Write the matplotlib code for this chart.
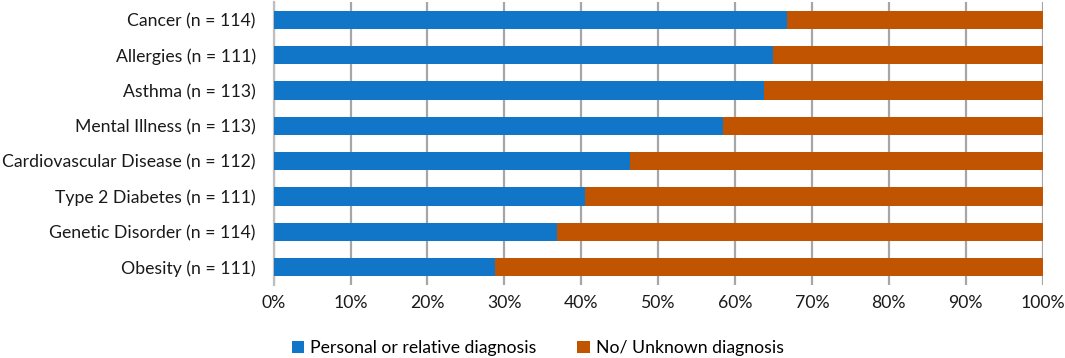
import numpy as np
import matplotlib
matplotlib.use("Agg")
import matplotlib.pyplot as plt

plt.rcParams["font.family"] = ["Lato", "DejaVu Sans"]

categories = ["Cancer (n = 114)", "Allergies (n = 111)", "Asthma (n = 113)",
              "Mental Illness (n = 113)", "Cardiovascular Disease (n = 112)",
              "Type 2 Diabetes (n = 111)", "Genetic Disorder (n = 114)",
              "Obesity (n = 111)"]
personal = [66.7, 64.9, 63.7, 58.4, 46.4, 40.5, 36.8, 28.8]
unknown = [100 - p for p in personal]
xticks = list(range(0, 101, 10))

blue = "#1175C8"
orange = "#C05400"

fig = plt.figure(figsize=(10.65, 3.58), dpi=100)
ax = fig.add_axes([0.257, 0.204, 0.722, 0.79])

y = np.arange(len(categories))[::-1]
ax.barh(y, personal, height=0.52, color=blue, label="Personal or relative diagnosis", zorder=3)
ax.barh(y, unknown, left=personal, height=0.52, color=orange, label="No/ Unknown diagnosis", zorder=3)

ax.set_xlim(0, 100)
ax.set_ylim(-0.5, len(categories) - 0.5)
ax.set_yticks(y)
ax.set_yticklabels(categories, fontsize=12.7, color="#1a1a1a")
ax.set_xticks(xticks)
ax.set_xticklabels([f"{t}%" for t in xticks], fontsize=12.7, color="#1a1a1a")
ax.tick_params(axis="both", length=0)
ax.tick_params(axis="x", pad=7)
ax.tick_params(axis="y", pad=13)
ax.grid(axis="x", color="#A6A6A6", linewidth=1.6, zorder=0)
for s in ["top", "right", "bottom"]:
    ax.spines[s].set_visible(False)
ax.spines["left"].set_color("#BFBFBF")
ax.spines["left"].set_linewidth(1.6)

fig.legend(loc="lower center", bbox_to_anchor=(0.505, -0.04), ncol=2, frameon=False,
           fontsize=12.7, handlelength=0.7, handleheight=0.7, handletextpad=0.35,
           columnspacing=2.3)

fig.savefig("out.png", dpi=100)
